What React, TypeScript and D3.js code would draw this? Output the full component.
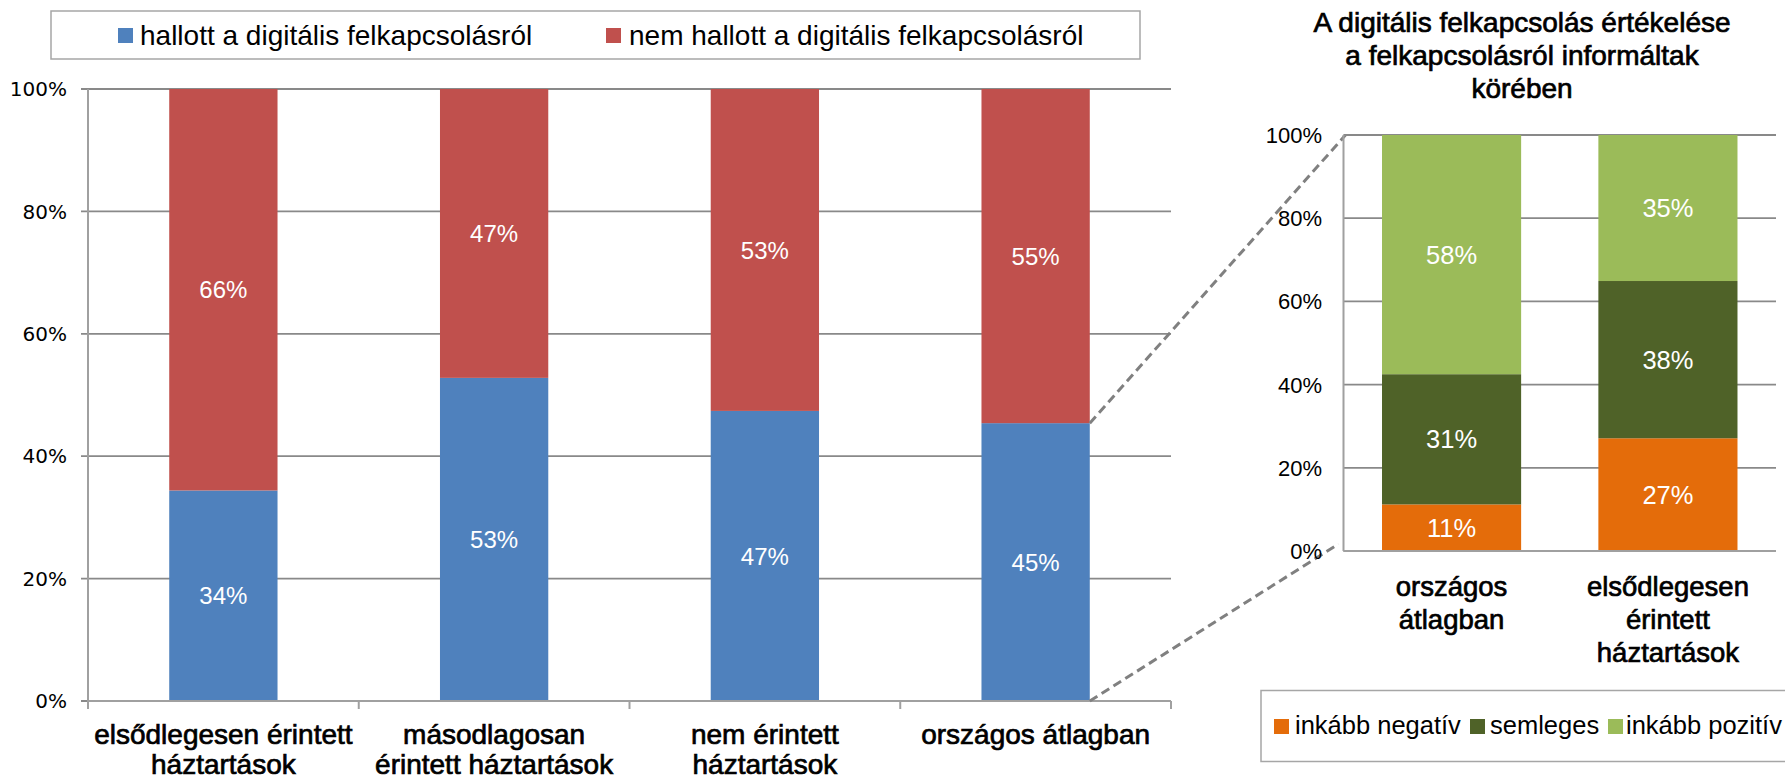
import React from "react";
import * as d3 from "d3";

const leftCategories = [
  ["elsődlegesen érintett", "háztartások"],
  ["másodlagosan", "érintett háztartások"],
  ["nem érintett", "háztartások"],
  ["országos átlagban"],
];
const leftSeriesNames = [
  "hallott a digitális felkapcsolásról",
  "nem hallott a digitális felkapcsolásról",
];
const heardValues = [34.4, 52.8, 47.4, 45.4];
const notHeardValues = [65.6, 47.2, 52.6, 54.6];
const leftLabels = [
  ["34%", "53%", "47%", "45%"],
  ["66%", "47%", "53%", "55%"],
];

const rightTitle = [
  "A digitális felkapcsolás értékelése",
  "a felkapcsolásról informáltak",
  "körében",
];
const rightCategories = [
  ["országos", "átlagban"],
  ["elsődlegesen", "érintett", "háztartások"],
];
const rightSeriesNames = ["inkább negatív", "semleges", "inkább pozitív"];
const negativeValues = [11.2, 27.1];
const neutralValues = [31.3, 37.8];
const positiveValues = [57.5, 35.1];
const rightLabels = [
  ["11%", "27%"],
  ["31%", "38%"],
  ["58%", "35%"],
];
const yTicks = [0, 20, 40, 60, 80, 100];

const leftColors = ["#4F81BD", "#C0504D"];
const rightColors = ["#E46C0A", "#4F6228", "#9BBB59"];

const SANS = "'Liberation Sans', Arial, sans-serif";
const WIDE = "'DejaVu Sans', sans-serif";
const GRID = "#898989";
const AXIS = "#a0a0a0";

export default function App() {
  const W = 1785;
  const H = 779;

  // left chart
  const lx0 = 88, lx1 = 1171, ly0 = 89, ly1 = 701;
  const lx = d3
    .scaleBand<number>()
    .domain(d3.range(leftCategories.length))
    .range([lx0, lx1])
    .paddingInner(0.6)
    .paddingOuter(0.3);
  const ly = d3.scaleLinear().domain([0, 100]).range([ly1, ly0]);
  const leftSeries = [heardValues, notHeardValues];
  const leftStacks = leftSeries.map((vals, si) =>
    vals.map((v, i) => {
      const base = d3.sum(leftSeries.slice(0, si), (s) => s[i]);
      return { y0: base, y1: base + v, i };
    })
  );
  const step = lx.step();

  // right chart
  const rx0 = 1343.5, rx1 = 1776, ry0 = 135, ry1 = 551;
  const rx = d3
    .scaleBand<number>()
    .domain(d3.range(rightCategories.length))
    .range([rx0, rx1])
    .paddingInner(0.357)
    .paddingOuter(0.178);
  const ry = d3.scaleLinear().domain([0, 100]).range([ry1, ry0]);
  const rightSeries = [negativeValues, neutralValues, positiveValues];
  const rightStacks = rightSeries.map((vals, si) =>
    vals.map((v, i) => {
      const base = d3.sum(rightSeries.slice(0, si), (s) => s[i]);
      return { y0: base, y1: base + v, i };
    })
  );

  const last = leftCategories.length - 1;
  const barRight = (lx(last) as number) + lx.bandwidth();

  const legend1 = [
    { sq: 118, tx: 140 },
    { sq: 606, tx: 629 },
  ];
  const legend2 = [
    { sq: 1274, tx: 1295 },
    { sq: 1470, tx: 1490 },
    { sq: 1608, tx: 1626 },
  ];

  return (
    <svg
      width={W}
      height={H}
      style={{ position: "absolute", left: 0, top: 0, background: "#fff" }}
    >
      <rect x={0} y={0} width={W} height={H} fill="#fff" />

      {/* left legend */}
      <rect x={51} y={11} width={1089} height={48} fill="#fff" stroke="#a6a6a6" strokeWidth={1.5} />
      {leftSeriesNames.map((n, i) => (
        <g key={n}>
          <rect x={legend1[i].sq} y={28} width={15} height={15} fill={leftColors[i]} />
          <text x={legend1[i].tx} y={45} fontFamily={SANS} fontSize={28} fill="#000">
            {n}
          </text>
        </g>
      ))}

      {/* left gridlines */}
      {yTicks.map((t) => (
        <g key={t}>
          <line x1={81} x2={lx1} y1={ly(t)} y2={ly(t)} stroke={GRID} strokeWidth={1.8} />
          <text
            x={67}
            y={ly(t)}
            dy="0.36em"
            textAnchor="end"
            fontFamily={WIDE}
            fontSize={20}
            fill="#000"
          >
            {t}%
          </text>
        </g>
      ))}
      <line x1={lx0} x2={lx0} y1={ly0} y2={ly1 + 8} stroke={AXIS} strokeWidth={2} />
      {d3.range(leftCategories.length + 1).map((k) => (
        <line
          key={k}
          x1={lx0 + k * step}
          x2={lx0 + k * step}
          y1={ly1}
          y2={ly1 + 8}
          stroke={AXIS}
          strokeWidth={2}
        />
      ))}

      {/* left bars */}
      {leftStacks.map((stack, si) =>
        stack.map((d) => (
          <rect
            key={`${si}-${d.i}`}
            x={lx(d.i)}
            y={ly(d.y1)}
            width={lx.bandwidth()}
            height={ly(d.y0) - ly(d.y1)}
            fill={leftColors[si]}
          />
        ))
      )}
      <line x1={lx0} x2={lx1} y1={ly1} y2={ly1} stroke={AXIS} strokeWidth={2} />
      {leftStacks.map((stack, si) =>
        stack.map((d) => (
          <text
            key={`l${si}-${d.i}`}
            x={(lx(d.i) as number) + lx.bandwidth() / 2}
            y={ly((d.y0 + d.y1) / 2)}
            dy="0.36em"
            textAnchor="middle"
            fontFamily={SANS}
            fontSize={24}
            fill="#fff"
          >
            {leftLabels[si][d.i]}
          </text>
        ))
      )}

      {/* left category labels */}
      {leftCategories.map((lines, i) => (
        <text
          key={i}
          textAnchor="middle"
          fontFamily={SANS}
          fontSize={28}
          fill="#000"
          stroke="#000"
          strokeWidth={0.7}
        >
          {lines.map((ln, j) => (
            <tspan key={j} x={(lx(i) as number) + lx.bandwidth() / 2} y={744 + j * 30}>
              {ln}
            </tspan>
          ))}
        </text>
      ))}

      {/* connector dashed lines */}
      <line
        x1={barRight}
        y1={ly(heardValues[last])}
        x2={rx0 + 2}
        y2={ry(100)}
        stroke="#808080"
        strokeWidth={3}
        strokeDasharray="9,5"
      />
      <line
        x1={barRight}
        y1={ly(0)}
        x2={rx0 - 5}
        y2={ry(0) - 7}
        stroke="#808080"
        strokeWidth={3}
        strokeDasharray="9,5"
      />

      {/* right title */}
      <text
        textAnchor="middle"
        fontFamily={SANS}
        fontSize={28}
        fill="#000"
        stroke="#000"
        strokeWidth={0.7}
      >
        {rightTitle.map((ln, j) => (
          <tspan key={j} x={1522} y={32 + j * 33}>
            {ln}
          </tspan>
        ))}
      </text>

      {/* right gridlines */}
      {yTicks.map((t) => (
        <g key={t}>
          <line x1={rx0} x2={rx1} y1={ry(t)} y2={ry(t)} stroke={GRID} strokeWidth={1.8} />
          <text
            x={1322}
            y={ry(t)}
            dy="0.36em"
            textAnchor="end"
            fontFamily={SANS}
            fontSize={22}
            fill="#000"
          >
            {t}%
          </text>
        </g>
      ))}
      <line x1={rx0} x2={rx0} y1={ry0} y2={ry1} stroke={AXIS} strokeWidth={2} />

      {/* right bars */}
      {rightStacks.map((stack, si) =>
        stack.map((d) => (
          <rect
            key={`${si}-${d.i}`}
            x={rx(d.i)}
            y={ry(d.y1)}
            width={rx.bandwidth()}
            height={ry(d.y0) - ry(d.y1)}
            fill={rightColors[si]}
          />
        ))
      )}
      <line x1={rx0} x2={rx1} y1={ry1} y2={ry1} stroke={AXIS} strokeWidth={2} />
      {rightStacks.map((stack, si) =>
        stack.map((d) => (
          <text
            key={`r${si}-${d.i}`}
            x={(rx(d.i) as number) + rx.bandwidth() / 2}
            y={ry((d.y0 + d.y1) / 2)}
            dy="0.36em"
            textAnchor="middle"
            fontFamily={SANS}
            fontSize={25.5}
            fill="#fff"
          >
            {rightLabels[si][d.i]}
          </text>
        ))
      )}

      {/* right category labels */}
      {rightCategories.map((lines, i) => (
        <text
          key={i}
          textAnchor="middle"
          fontFamily={SANS}
          fontSize={27.5}
          fill="#000"
          stroke="#000"
          strokeWidth={0.7}
        >
          {lines.map((ln, j) => (
            <tspan key={j} x={(rx(i) as number) + rx.bandwidth() / 2} y={596 + j * 33}>
              {ln}
            </tspan>
          ))}
        </text>
      ))}

      {/* right legend */}
      <rect x={1261} y={690.5} width={560} height={71} fill="#fff" stroke="#a6a6a6" strokeWidth={1.5} />
      {rightSeriesNames.map((n, i) => (
        <g key={n}>
          <rect x={legend2[i].sq} y={719} width={15} height={15} fill={rightColors[i]} />
          <text x={legend2[i].tx} y={734} fontFamily={SANS} fontSize={25.5} fill="#000">
            {n}
          </text>
        </g>
      ))}
    </svg>
  );
}
